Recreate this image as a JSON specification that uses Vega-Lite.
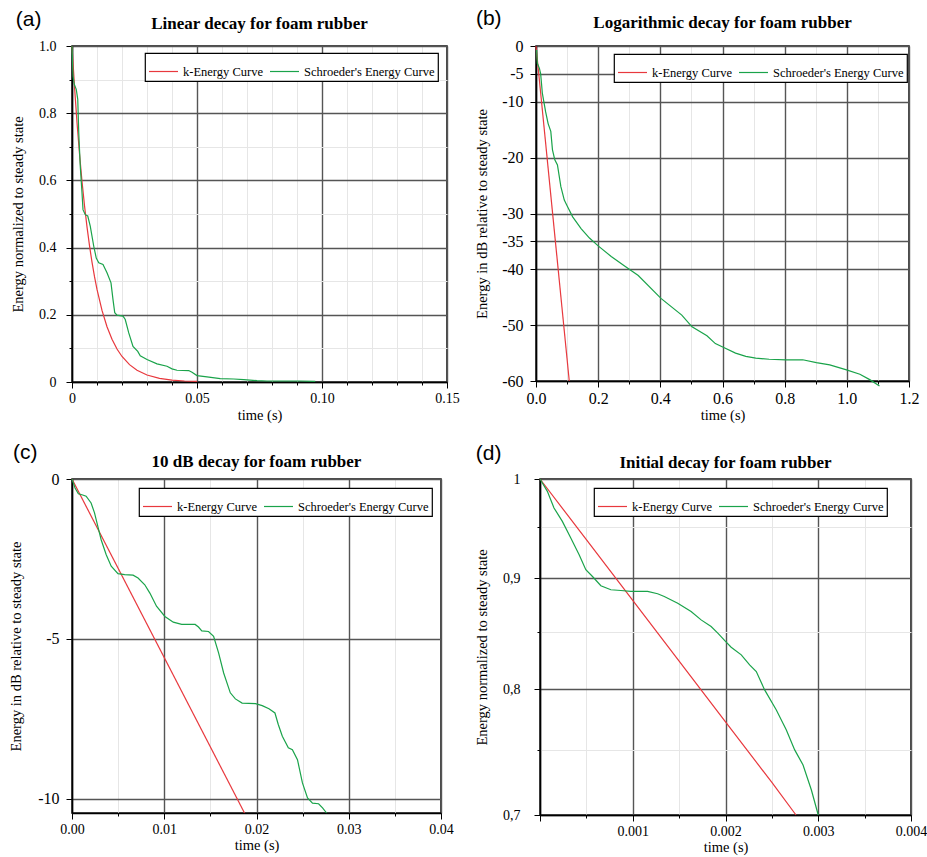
{
  "$schema": "https://vega.github.io/schema/vega-lite/v6.json",
  "background": "white",
  "padding": {"left": 7, "top": 8, "right": 4, "bottom": 2},
  "config": {
    "font": "Liberation Serif",
    "view": {"stroke": "#111", "strokeWidth": 1.5},
    "axis": {"labelFont": "Liberation Serif", "labelFontSize": 14, "labelColor": "black", "titleFont": "Liberation Serif", "titleFontSize": 14.5, "titleFontWeight": "normal", "titleColor": "black", "domainColor": "black", "domainWidth": 1.5, "tickColor": "black", "tickWidth": 1, "labelPadding": 3, "gridOpacity": 1, "labelOverlap": false, "labelFlush": false},
    "title": {"font": "Liberation Serif", "fontSize": 17, "fontWeight": "bold", "color": "black"},
    "legend": {"orient": "none", "direction": "horizontal", "strokeColor": "black", "strokeWidth": 1.2, "fillColor": "white", "padding": 3, "symbolType": "stroke", "symbolSize": 841, "symbolStrokeWidth": 1.2, "labelFont": "Liberation Serif", "labelFontSize": 12.5, "labelColor": "black", "labelOffset": 4, "columnPadding": 4},
    "line": {"strokeWidth": 1.2}
  },
  "datasets": {
    "a": [
      {"t": 0, "v": 1, "s": "k-Energy Curve"}, {"t": 0.001, "v": 0.8791, "s": "k-Energy Curve"}, {"t": 0.002, "v": 0.7728, "s": "k-Energy Curve"}, {"t": 0.003, "v": 0.6793, "s": "k-Energy Curve"}, {"t": 0.004, "v": 0.5973, "s": "k-Energy Curve"}, {"t": 0.005, "v": 0.525, "s": "k-Energy Curve"}, {"t": 0.006, "v": 0.4615, "s": "k-Energy Curve"}, {"t": 0.007, "v": 0.4057, "s": "k-Energy Curve"}, {"t": 0.008, "v": 0.3567, "s": "k-Energy Curve"}, {"t": 0.009, "v": 0.3136, "s": "k-Energy Curve"}, {"t": 0.01, "v": 0.2756, "s": "k-Energy Curve"}, {"t": 0.012, "v": 0.213, "s": "k-Energy Curve"}, {"t": 0.014, "v": 0.1646, "s": "k-Energy Curve"}, {"t": 0.016, "v": 0.1272, "s": "k-Energy Curve"}, {"t": 0.018, "v": 0.0983, "s": "k-Energy Curve"}, {"t": 0.02, "v": 0.076, "s": "k-Energy Curve"}, {"t": 0.023, "v": 0.0516, "s": "k-Energy Curve"}, {"t": 0.026, "v": 0.0351, "s": "k-Energy Curve"}, {"t": 0.03, "v": 0.0209, "s": "k-Energy Curve"}, {"t": 0.035, "v": 0.011, "s": "k-Energy Curve"}, {"t": 0.04, "v": 0.0058, "s": "k-Energy Curve"}, {"t": 0.045, "v": 0.003, "s": "k-Energy Curve"}, {"t": 0.05, "v": 0.0016, "s": "k-Energy Curve"},
      {"t": 0, "v": 1, "s": "Schroeder's Energy Curve"}, {"t": 0.0004, "v": 0.91, "s": "Schroeder's Energy Curve"}, {"t": 0.0009, "v": 0.886, "s": "Schroeder's Energy Curve"}, {"t": 0.0017, "v": 0.871, "s": "Schroeder's Energy Curve"}, {"t": 0.0023, "v": 0.841, "s": "Schroeder's Energy Curve"}, {"t": 0.0027, "v": 0.742, "s": "Schroeder's Energy Curve"}, {"t": 0.0033, "v": 0.643, "s": "Schroeder's Energy Curve"}, {"t": 0.004, "v": 0.563, "s": "Schroeder's Energy Curve"}, {"t": 0.0044, "v": 0.513, "s": "Schroeder's Energy Curve"}, {"t": 0.0053, "v": 0.498, "s": "Schroeder's Energy Curve"}, {"t": 0.0063, "v": 0.494, "s": "Schroeder's Energy Curve"}, {"t": 0.0073, "v": 0.464, "s": "Schroeder's Energy Curve"}, {"t": 0.0087, "v": 0.404, "s": "Schroeder's Energy Curve"}, {"t": 0.0097, "v": 0.369, "s": "Schroeder's Energy Curve"}, {"t": 0.0107, "v": 0.355, "s": "Schroeder's Energy Curve"}, {"t": 0.0124, "v": 0.35, "s": "Schroeder's Energy Curve"}, {"t": 0.014, "v": 0.325, "s": "Schroeder's Energy Curve"}, {"t": 0.0156, "v": 0.295, "s": "Schroeder's Energy Curve"}, {"t": 0.0164, "v": 0.245, "s": "Schroeder's Energy Curve"}, {"t": 0.0171, "v": 0.206, "s": "Schroeder's Energy Curve"}, {"t": 0.018, "v": 0.199, "s": "Schroeder's Energy Curve"}, {"t": 0.0204, "v": 0.196, "s": "Schroeder's Energy Curve"}, {"t": 0.0213, "v": 0.186, "s": "Schroeder's Energy Curve"}, {"t": 0.0227, "v": 0.146, "s": "Schroeder's Energy Curve"}, {"t": 0.0244, "v": 0.106, "s": "Schroeder's Energy Curve"}, {"t": 0.0263, "v": 0.091, "s": "Schroeder's Energy Curve"}, {"t": 0.0273, "v": 0.078, "s": "Schroeder's Energy Curve"}, {"t": 0.03, "v": 0.067, "s": "Schroeder's Energy Curve"}, {"t": 0.034, "v": 0.054, "s": "Schroeder's Energy Curve"}, {"t": 0.038, "v": 0.047, "s": "Schroeder's Energy Curve"}, {"t": 0.04, "v": 0.039, "s": "Schroeder's Energy Curve"}, {"t": 0.042, "v": 0.035, "s": "Schroeder's Energy Curve"}, {"t": 0.0467, "v": 0.034, "s": "Schroeder's Energy Curve"}, {"t": 0.048, "v": 0.029, "s": "Schroeder's Energy Curve"}, {"t": 0.05, "v": 0.019, "s": "Schroeder's Energy Curve"}, {"t": 0.054, "v": 0.015, "s": "Schroeder's Energy Curve"}, {"t": 0.0593, "v": 0.01, "s": "Schroeder's Energy Curve"}, {"t": 0.0647, "v": 0.009, "s": "Schroeder's Energy Curve"}, {"t": 0.0687, "v": 0.007, "s": "Schroeder's Energy Curve"}, {"t": 0.074, "v": 0.004, "s": "Schroeder's Energy Curve"}, {"t": 0.078, "v": 0.003, "s": "Schroeder's Energy Curve"}, {"t": 0.0913, "v": 0.003, "s": "Schroeder's Energy Curve"}, {"t": 0.0973, "v": 0.002, "s": "Schroeder's Energy Curve"}
    ],
    "b": [
      {"t": 0, "v": 0, "s": "k-Energy Curve"}, {"t": 0.107, "v": -60, "s": "k-Energy Curve"},
      {"t": 0.002, "v": -0.7, "s": "Schroeder's Energy Curve"}, {"t": 0.0043, "v": -3.1, "s": "Schroeder's Energy Curve"}, {"t": 0.011, "v": -4, "s": "Schroeder's Energy Curve"}, {"t": 0.015, "v": -5, "s": "Schroeder's Energy Curve"}, {"t": 0.0205, "v": -8.5, "s": "Schroeder's Energy Curve"}, {"t": 0.031, "v": -11.8, "s": "Schroeder's Energy Curve"}, {"t": 0.039, "v": -13.9, "s": "Schroeder's Energy Curve"}, {"t": 0.0476, "v": -15.3, "s": "Schroeder's Energy Curve"}, {"t": 0.053, "v": -18.6, "s": "Schroeder's Energy Curve"}, {"t": 0.0605, "v": -20.4, "s": "Schroeder's Energy Curve"}, {"t": 0.069, "v": -21.3, "s": "Schroeder's Energy Curve"}, {"t": 0.08, "v": -25.2, "s": "Schroeder's Energy Curve"}, {"t": 0.091, "v": -27.6, "s": "Schroeder's Energy Curve"}, {"t": 0.1016, "v": -28.8, "s": "Schroeder's Energy Curve"}, {"t": 0.118, "v": -30.6, "s": "Schroeder's Energy Curve"}, {"t": 0.145, "v": -32.7, "s": "Schroeder's Energy Curve"}, {"t": 0.172, "v": -34.4, "s": "Schroeder's Energy Curve"}, {"t": 0.2, "v": -35.8, "s": "Schroeder's Energy Curve"}, {"t": 0.242, "v": -37.7, "s": "Schroeder's Energy Curve"}, {"t": 0.285, "v": -39.4, "s": "Schroeder's Energy Curve"}, {"t": 0.329, "v": -41.1, "s": "Schroeder's Energy Curve"}, {"t": 0.402, "v": -45.2, "s": "Schroeder's Energy Curve"}, {"t": 0.469, "v": -48.2, "s": "Schroeder's Energy Curve"}, {"t": 0.502, "v": -50.3, "s": "Schroeder's Energy Curve"}, {"t": 0.55, "v": -51.9, "s": "Schroeder's Energy Curve"}, {"t": 0.577, "v": -53.3, "s": "Schroeder's Energy Curve"}, {"t": 0.604, "v": -54, "s": "Schroeder's Energy Curve"}, {"t": 0.642, "v": -55, "s": "Schroeder's Energy Curve"}, {"t": 0.675, "v": -55.6, "s": "Schroeder's Energy Curve"}, {"t": 0.707, "v": -55.9, "s": "Schroeder's Energy Curve"}, {"t": 0.75, "v": -56.1, "s": "Schroeder's Energy Curve"}, {"t": 0.804, "v": -56.2, "s": "Schroeder's Energy Curve"}, {"t": 0.858, "v": -56.2, "s": "Schroeder's Energy Curve"}, {"t": 0.902, "v": -56.7, "s": "Schroeder's Energy Curve"}, {"t": 0.945, "v": -57.1, "s": "Schroeder's Energy Curve"}, {"t": 0.999, "v": -58, "s": "Schroeder's Energy Curve"}, {"t": 1.042, "v": -58.8, "s": "Schroeder's Energy Curve"}, {"t": 1.075, "v": -59.8, "s": "Schroeder's Energy Curve"}, {"t": 1.105, "v": -60.9, "s": "Schroeder's Energy Curve"}
    ],
    "c": [
      {"t": 0, "v": 0, "s": "k-Energy Curve"}, {"t": 0.0187, "v": -10.45, "s": "k-Energy Curve"},
      {"t": 0, "v": 0, "s": "Schroeder's Energy Curve"}, {"t": 0.00033, "v": -0.28, "s": "Schroeder's Energy Curve"}, {"t": 0.00069, "v": -0.46, "s": "Schroeder's Energy Curve"}, {"t": 0.00116, "v": -0.5, "s": "Schroeder's Energy Curve"}, {"t": 0.00153, "v": -0.54, "s": "Schroeder's Energy Curve"}, {"t": 0.00207, "v": -0.75, "s": "Schroeder's Energy Curve"}, {"t": 0.00244, "v": -1.06, "s": "Schroeder's Energy Curve"}, {"t": 0.0028, "v": -1.48, "s": "Schroeder's Energy Curve"}, {"t": 0.00316, "v": -1.9, "s": "Schroeder's Energy Curve"}, {"t": 0.00371, "v": -2.37, "s": "Schroeder's Energy Curve"}, {"t": 0.00425, "v": -2.73, "s": "Schroeder's Energy Curve"}, {"t": 0.00498, "v": -2.96, "s": "Schroeder's Energy Curve"}, {"t": 0.00571, "v": -2.99, "s": "Schroeder's Energy Curve"}, {"t": 0.00662, "v": -3.01, "s": "Schroeder's Energy Curve"}, {"t": 0.00716, "v": -3.1, "s": "Schroeder's Energy Curve"}, {"t": 0.00789, "v": -3.31, "s": "Schroeder's Energy Curve"}, {"t": 0.00844, "v": -3.57, "s": "Schroeder's Energy Curve"}, {"t": 0.00916, "v": -3.98, "s": "Schroeder's Energy Curve"}, {"t": 0.01007, "v": -4.3, "s": "Schroeder's Energy Curve"}, {"t": 0.01098, "v": -4.48, "s": "Schroeder's Energy Curve"}, {"t": 0.01189, "v": -4.55, "s": "Schroeder's Energy Curve"}, {"t": 0.01335, "v": -4.55, "s": "Schroeder's Energy Curve"}, {"t": 0.01371, "v": -4.63, "s": "Schroeder's Energy Curve"}, {"t": 0.01407, "v": -4.75, "s": "Schroeder's Energy Curve"}, {"t": 0.0148, "v": -4.77, "s": "Schroeder's Energy Curve"}, {"t": 0.01535, "v": -4.92, "s": "Schroeder's Energy Curve"}, {"t": 0.01589, "v": -5.44, "s": "Schroeder's Energy Curve"}, {"t": 0.01644, "v": -6.07, "s": "Schroeder's Energy Curve"}, {"t": 0.01716, "v": -6.69, "s": "Schroeder's Energy Curve"}, {"t": 0.01771, "v": -6.88, "s": "Schroeder's Energy Curve"}, {"t": 0.01844, "v": -7.01, "s": "Schroeder's Energy Curve"}, {"t": 0.01989, "v": -7.03, "s": "Schroeder's Energy Curve"}, {"t": 0.02062, "v": -7.09, "s": "Schroeder's Energy Curve"}, {"t": 0.02135, "v": -7.19, "s": "Schroeder's Energy Curve"}, {"t": 0.022, "v": -7.32, "s": "Schroeder's Energy Curve"}, {"t": 0.02236, "v": -7.68, "s": "Schroeder's Energy Curve"}, {"t": 0.0228, "v": -8.05, "s": "Schroeder's Energy Curve"}, {"t": 0.02345, "v": -8.41, "s": "Schroeder's Energy Curve"}, {"t": 0.02389, "v": -8.47, "s": "Schroeder's Energy Curve"}, {"t": 0.02444, "v": -8.78, "s": "Schroeder's Energy Curve"}, {"t": 0.02498, "v": -9.51, "s": "Schroeder's Energy Curve"}, {"t": 0.02553, "v": -9.98, "s": "Schroeder's Energy Curve"}, {"t": 0.02607, "v": -10.14, "s": "Schroeder's Energy Curve"}, {"t": 0.02673, "v": -10.16, "s": "Schroeder's Energy Curve"}, {"t": 0.02716, "v": -10.29, "s": "Schroeder's Energy Curve"}, {"t": 0.0276, "v": -10.45, "s": "Schroeder's Energy Curve"}
    ],
    "d": [
      {"t": 0, "v": 1, "s": "k-Energy Curve"}, {"t": 0.0005, "v": 0.9376, "s": "k-Energy Curve"}, {"t": 0.001, "v": 0.8791, "s": "k-Energy Curve"}, {"t": 0.0015, "v": 0.8242, "s": "k-Energy Curve"}, {"t": 0.002, "v": 0.7728, "s": "k-Energy Curve"}, {"t": 0.0025, "v": 0.7246, "s": "k-Energy Curve"}, {"t": 0.00276, "v": 0.7, "s": "k-Energy Curve"},
      {"t": 0, "v": 1, "s": "Schroeder's Energy Curve"}, {"t": 0.0000793, "v": 0.987, "s": "Schroeder's Energy Curve"}, {"t": 0.000151, "v": 0.9697, "s": "Schroeder's Energy Curve"}, {"t": 0.000241, "v": 0.956, "s": "Schroeder's Energy Curve"}, {"t": 0.000332, "v": 0.9392, "s": "Schroeder's Energy Curve"}, {"t": 0.000422, "v": 0.9227, "s": "Schroeder's Energy Curve"}, {"t": 0.000494, "v": 0.9082, "s": "Schroeder's Energy Curve"}, {"t": 0.000566, "v": 0.9017, "s": "Schroeder's Energy Curve"}, {"t": 0.000656, "v": 0.8929, "s": "Schroeder's Energy Curve"}, {"t": 0.000764, "v": 0.8891, "s": "Schroeder's Energy Curve"}, {"t": 0.000872, "v": 0.8884, "s": "Schroeder's Energy Curve"}, {"t": 0.00098, "v": 0.8875, "s": "Schroeder's Energy Curve"}, {"t": 0.00116, "v": 0.8875, "s": "Schroeder's Energy Curve"}, {"t": 0.001268, "v": 0.8853, "s": "Schroeder's Energy Curve"}, {"t": 0.00134, "v": 0.8828, "s": "Schroeder's Energy Curve"}, {"t": 0.001485, "v": 0.8765, "s": "Schroeder's Energy Curve"}, {"t": 0.001629, "v": 0.8688, "s": "Schroeder's Energy Curve"}, {"t": 0.001737, "v": 0.8611, "s": "Schroeder's Energy Curve"}, {"t": 0.001845, "v": 0.855, "s": "Schroeder's Energy Curve"}, {"t": 0.001917, "v": 0.8491, "s": "Schroeder's Energy Curve"}, {"t": 0.002, "v": 0.8416, "s": "Schroeder's Energy Curve"}, {"t": 0.002061, "v": 0.8365, "s": "Schroeder's Energy Curve"}, {"t": 0.00217, "v": 0.8297, "s": "Schroeder's Energy Curve"}, {"t": 0.00226, "v": 0.8209, "s": "Schroeder's Energy Curve"}, {"t": 0.002332, "v": 0.8151, "s": "Schroeder's Energy Curve"}, {"t": 0.002422, "v": 0.7994, "s": "Schroeder's Energy Curve"}, {"t": 0.002548, "v": 0.7826, "s": "Schroeder's Energy Curve"}, {"t": 0.002656, "v": 0.7661, "s": "Schroeder's Energy Curve"}, {"t": 0.002746, "v": 0.7501, "s": "Schroeder's Energy Curve"}, {"t": 0.002836, "v": 0.7382, "s": "Schroeder's Energy Curve"}, {"t": 0.002926, "v": 0.7188, "s": "Schroeder's Energy Curve"}, {"t": 0.003, "v": 0.7, "s": "Schroeder's Energy Curve"}
    ]
  },
  "spacing": 19,
  "resolve": {"scale": {"color": "independent"}, "legend": {"color": "independent"}},
  "vconcat": [
    {
      "spacing": 13,
      "resolve": {"scale": {"color": "independent"}, "legend": {"color": "independent"}},
      "hconcat": [
        {
          "title": {"text": "(a)", "anchor": "start", "frame": "bounds", "font": "Liberation Sans", "fontSize": 21, "fontWeight": "normal", "offset": -16, "dx": 6},
          "resolve": {"scale": {"color": "independent"}, "legend": {"color": "independent"}},
          "vconcat": [
            {
              "title": {"text": "Linear decay for foam rubber", "offset": 6},
              "width": 375, "height": 336,
              "data": {"name": "a"},
              "mark": {"type": "line"},
              "encoding": {
                "x": {"field": "t", "type": "quantitative", "scale": {"domain": [0, 0.15], "nice": false, "zero": false},
                  "axis": {"title": "time (s)", "values": [0, 0.01, 0.02, 0.03, 0.04, 0.05, 0.06, 0.07, 0.08, 0.09, 0.1, 0.11, 0.12, 0.13, 0.14, 0.15],
                    "labelExpr": "datum.value == 0 ? '0' : (abs(datum.value*20 - round(datum.value*20)) < 1e-6 ? format(datum.value, '.2f') : '')",
                    "tickSize": {"condition": {"test": "abs(datum.value*20 - round(datum.value*20)) < 1e-6", "value": 6}, "value": 3},
                    "gridColor": {"condition": {"test": "abs(datum.value*20 - round(datum.value*20)) < 1e-6", "value": "#555555"}, "value": "#e6e6e6"},
                    "gridWidth": {"condition": {"test": "abs(datum.value*20 - round(datum.value*20)) < 1e-6", "value": 1.4}, "value": 1},
                    "titlePadding": 3}},
                "y": {"field": "v", "type": "quantitative", "scale": {"domain": [0, 1], "nice": false, "zero": false},
                  "axis": {"title": "Energy normalized to steady state", "values": [0, 0.1, 0.2, 0.3, 0.4, 0.5, 0.6, 0.7, 0.8, 0.9, 1],
                    "labelExpr": "datum.value == 0 ? '0' : (abs(datum.value*5 - round(datum.value*5)) < 1e-6 ? format(datum.value, '.1f') : '')",
                    "tickSize": {"condition": {"test": "abs(datum.value*5 - round(datum.value*5)) < 1e-6", "value": 6}, "value": 3},
                    "gridColor": {"condition": {"test": "abs(datum.value*5 - round(datum.value*5)) < 1e-6", "value": "#555555"}, "value": "#e6e6e6"},
                    "gridWidth": {"condition": {"test": "abs(datum.value*5 - round(datum.value*5)) < 1e-6", "value": 1.4}, "value": 1},
                    "labelPadding": 10, "titlePadding": 13}},
                "color": {"field": "s", "type": "nominal", "scale": {"domain": ["k-Energy Curve", "Schroeder's Energy Curve"], "range": ["#e8383d", "#1aa34a"]},
                  "legend": {"title": null, "legendX": 73, "legendY": 7}}
              }
            }
          ]
        },
        {
          "title": {"text": "(b)", "anchor": "start", "frame": "bounds", "font": "Liberation Sans", "fontSize": 21, "fontWeight": "normal", "offset": -16, "dx": 2},
          "resolve": {"scale": {"color": "independent"}, "legend": {"color": "independent"}},
          "vconcat": [
            {
              "title": {"text": "Logarithmic decay for foam rubber", "offset": 6},
              "width": 373, "height": 335,
              "data": {"name": "b"},
              "mark": {"type": "line"},
              "encoding": {
                "x": {"field": "t", "type": "quantitative", "scale": {"domain": [0, 1.2], "nice": false, "zero": false},
                  "axis": {"title": "time (s)", "values": [0, 0.1, 0.2, 0.3, 0.4, 0.5, 0.6, 0.7, 0.8, 0.9, 1, 1.1, 1.2], "labelFontSize": 16,
                    "labelExpr": "abs(datum.value*5 - round(datum.value*5)) < 1e-6 ? format(datum.value, '.1f') : ''",
                    "tickSize": {"condition": {"test": "abs(datum.value*5 - round(datum.value*5)) < 1e-6", "value": 6}, "value": 3},
                    "gridColor": {"condition": {"test": "abs(datum.value*5 - round(datum.value*5)) < 1e-6", "value": "#555555"}, "value": "#e6e6e6"},
                    "gridWidth": {"condition": {"test": "abs(datum.value*5 - round(datum.value*5)) < 1e-6", "value": 1.4}, "value": 1},
                    "titlePadding": 2}},
                "y": {"field": "v", "type": "quantitative", "scale": {"domain": [-60, 0], "nice": false, "zero": false},
                  "axis": {"title": "Energy in dB relative to steady state", "values": [0, -5, -10, -20, -30, -35, -40, -50, -60], "labelFontSize": 16,
                    "labelExpr": "'' + datum.value", "tickSize": 6, "gridColor": "#555555", "gridWidth": 1.4,
                    "labelPadding": 7, "titlePadding": 12}},
                "color": {"field": "s", "type": "nominal", "scale": {"domain": ["k-Energy Curve", "Schroeder's Energy Curve"], "range": ["#e8383d", "#1aa34a"]},
                  "legend": {"title": null, "legendX": 78, "legendY": 8}}
              }
            }
          ]
        }
      ]
    },
    {
      "spacing": 19,
      "resolve": {"scale": {"color": "independent"}, "legend": {"color": "independent"}},
      "hconcat": [
        {
          "title": {"text": "(c)", "anchor": "start", "frame": "bounds", "font": "Liberation Sans", "fontSize": 21, "fontWeight": "normal", "offset": -11, "dx": 5},
          "resolve": {"scale": {"color": "independent"}, "legend": {"color": "independent"}},
          "vconcat": [
            {
              "title": {"text": "10 dB decay for foam rubber", "offset": 0},
              "width": 369, "height": 334,
              "data": {"name": "c"},
              "mark": {"type": "line"},
              "encoding": {
                "x": {"field": "t", "type": "quantitative", "scale": {"domain": [0, 0.04], "nice": false, "zero": false},
                  "axis": {"title": "time (s)", "values": [0, 0.005, 0.01, 0.015, 0.02, 0.025, 0.03, 0.035, 0.04],
                    "labelExpr": "abs(datum.value*100 - round(datum.value*100)) < 1e-6 ? format(datum.value, '.2f') : ''",
                    "tickSize": {"condition": {"test": "abs(datum.value*100 - round(datum.value*100)) < 1e-6", "value": 6}, "value": 3},
                    "gridColor": {"condition": {"test": "abs(datum.value*100 - round(datum.value*100)) < 1e-6", "value": "#555555"}, "value": "#e6e6e6"},
                    "gridWidth": {"condition": {"test": "abs(datum.value*100 - round(datum.value*100)) < 1e-6", "value": 1.4}, "value": 1},
                    "titlePadding": 2}},
                "y": {"field": "v", "type": "quantitative", "scale": {"domain": [-10.45, 0], "nice": false, "zero": false},
                  "axis": {"title": "Energy in dB relative to steady state", "values": [0, -5, -10], "labelFontSize": 16,
                    "labelExpr": "'' + datum.value", "tickSize": 6, "gridColor": "#555555", "gridWidth": 1.4,
                    "labelPadding": 7, "titlePadding": 14}},
                "color": {"field": "s", "type": "nominal", "scale": {"domain": ["k-Energy Curve", "Schroeder's Energy Curve"], "range": ["#e8383d", "#1aa34a"]},
                  "legend": {"title": null, "legendX": 67, "legendY": 9}}
              }
            }
          ]
        },
        {
          "title": {"text": "(d)", "anchor": "start", "frame": "bounds", "font": "Liberation Sans", "fontSize": 21, "fontWeight": "normal", "offset": -11, "dx": 2},
          "resolve": {"scale": {"color": "independent"}, "legend": {"color": "independent"}},
          "vconcat": [
            {
              "title": {"text": "Initial decay for foam rubber", "offset": 0},
              "width": 371, "height": 336,
              "data": {"name": "d"},
              "mark": {"type": "line"},
              "encoding": {
                "x": {"field": "t", "type": "quantitative", "scale": {"domain": [0, 0.004], "nice": false, "zero": false},
                  "axis": {"title": "time (s)", "values": [0, 0.0005, 0.001, 0.0015, 0.002, 0.0025, 0.003, 0.0035, 0.004],
                    "labelExpr": "datum.value > 0 && abs(datum.value*1000 - round(datum.value*1000)) < 1e-6 ? format(datum.value, '.3f') : ''",
                    "tickSize": {"condition": {"test": "abs(datum.value*1000 - round(datum.value*1000)) < 1e-6", "value": 6}, "value": 3},
                    "gridColor": {"condition": {"test": "abs(datum.value*1000 - round(datum.value*1000)) < 1e-6", "value": "#555555"}, "value": "#e6e6e6"},
                    "gridWidth": {"condition": {"test": "abs(datum.value*1000 - round(datum.value*1000)) < 1e-6", "value": 1.4}, "value": 1},
                    "titlePadding": 2}},
                "y": {"field": "v", "type": "quantitative", "scale": {"type": "log", "domain": [0.7, 1], "nice": false, "zero": false},
                  "axis": {"title": "Energy normalized to steady state", "values": [0.7, 0.75, 0.8, 0.85, 0.9, 0.95, 1],
                    "labelExpr": "datum.value == 1 ? '1' : (abs(datum.value*10 - round(datum.value*10)) < 1e-6 ? replace(format(datum.value, '.1f'), '.', ',') : '')",
                    "tickSize": {"condition": {"test": "abs(datum.value*10 - round(datum.value*10)) < 1e-6", "value": 6}, "value": 3},
                    "gridColor": {"condition": {"test": "abs(datum.value*10 - round(datum.value*10)) < 1e-6", "value": "#555555"}, "value": "#e6e6e6"},
                    "gridWidth": {"condition": {"test": "abs(datum.value*10 - round(datum.value*10)) < 1e-6", "value": 1.4}, "value": 1},
                    "labelPadding": 14, "titlePadding": 13}},
                "color": {"field": "s", "type": "nominal", "scale": {"domain": ["k-Energy Curve", "Schroeder's Energy Curve"], "range": ["#e8383d", "#1aa34a"]},
                  "legend": {"title": null, "legendX": 54, "legendY": 9}}
              }
            }
          ]
        }
      ]
    }
  ]
}
